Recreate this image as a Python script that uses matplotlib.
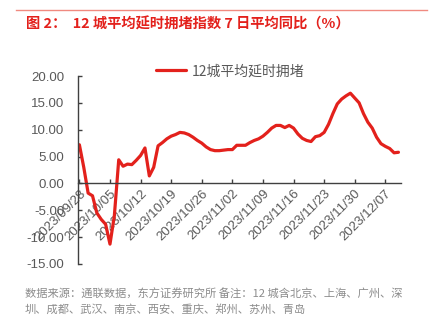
import matplotlib; matplotlib.use('Agg')
import matplotlib.pyplot as plt
import matplotlib.dates as mdates
import pandas as pd

# daily dates, 2023/09/28 .. 2023/12/10
dates = pd.date_range("2023-09-28", "2023-12-10", freq="D")

# 12-city average delayed congestion index, 7-day average YoY (%)
yoy = [
    7.2, 3.0, -1.8, -2.3, -5.5, -6.7, -7.6, -11.3, -6.0, 4.4,
    3.2, 3.6, 3.5, 4.3, 5.2, 6.6, 1.4, 3.0, 7.0, 7.6,
    8.3, 8.8, 9.1, 9.5, 9.4, 9.1, 8.6, 8.0, 7.5, 6.8,
    6.3, 6.1, 6.1, 6.2, 6.3, 6.3, 7.1, 7.1, 7.1, 7.6,
    8.0, 8.3, 8.8, 9.5, 10.3, 10.8, 10.8, 10.4, 10.8, 10.3,
    9.2, 8.4, 8.0, 7.8, 8.7, 8.9, 9.5, 11.0, 13.0, 14.8,
    15.7, 16.3, 16.8, 15.9, 15.0, 13.0, 11.4, 10.3, 8.6, 7.4,
    6.9, 6.5, 5.7, 5.8,
]
series_label = "12城平均延时拥堵"
yticks = [20, 15, 10, 5, 0, -5, -10, -15]

title = "图 2：  12 城平均延时拥堵指数 7 日平均同比（%）"
note = ("数据来源：通联数据，东方证券研究所 备注：12 城含北京、上海、广州、深\n"
        "圳、成都、武汉、南京、西安、重庆、郑州、苏州、青岛")

RED = "#e3211c"
GRAY = "#595959"
NUM_FONT = ["Liberation Sans", "Noto Sans CJK SC"]
CJK_FONT = ["Noto Sans CJK SC", "DejaVu Sans"]

fig = plt.figure(figsize=(4.34, 3.23), dpi=100)
W, H = 434, 323
ax = fig.add_axes([78.3 / W, 1 - 264 / H, (401 - 78.3) / W, (264 - 76) / H])

ax.plot(dates, yoy, color=RED, lw=2.3, solid_capstyle='round',
        solid_joinstyle='round', label=series_label)

ax.set_ylim(-15, 20)
ax.set_yticks(yticks)
ax.set_yticklabels([f"{v:.2f}" for v in yticks])
x0 = dates[0] - pd.Timedelta(hours=6)
x1 = dates[-1] + pd.Timedelta(hours=14)
ax.set_xlim(x0, x1)
ax.set_xticks(dates[::7])
ax.xaxis.set_major_formatter(mdates.DateFormatter("%Y/%m/%d"))

# spines: left axis only, x axis drawn through zero
for s in ("top", "right"):
    ax.spines[s].set_visible(False)
ax.spines["bottom"].set_position(("data", 0))
ax.spines["bottom"].set_color("#404040")
ax.spines["left"].set_color("#404040")
ax.spines["bottom"].set_linewidth(1.0)
ax.spines["left"].set_linewidth(1.0)

ax.tick_params(axis='y', direction='in', length=3, width=1, color="#404040",
               pad=10, labelcolor=GRAY)
ax.tick_params(axis='x', direction='in', length=3, width=1, color="#404040",
               pad=3, labelcolor=GRAY)
for lab in ax.get_yticklabels():
    lab.set_family(NUM_FONT)
    lab.set_fontsize(9.5)
for lab in ax.get_xticklabels():
    lab.set_family(NUM_FONT)
    lab.set_fontsize(9.5)
    lab.set_rotation(45)
    lab.set_ha('right')
    lab.set_va('top')
    lab.set_rotation_mode('anchor')

leg = ax.legend(loc='upper center', bbox_to_anchor=(0.47, 1.13), frameon=False,
                handlelength=2.2, handletextpad=0.4,
                prop={'family': CJK_FONT, 'size': 10})
for t in leg.get_texts():
    t.set_color(GRAY)

# header rule and title
fig.add_artist(plt.Line2D([16 / W, 427 / W], [1 - 10 / H, 1 - 10 / H],
                          color="#f08a80", lw=1.0))
fig.text(26 / W, 1 - 24 / H, title, color=RED, fontsize=10.3, fontweight='bold',
         family=CJK_FONT, ha='left', va='center')

fig.text(25 / W, 1 - 289 / H, note, color="#8c8c8c", fontsize=8.1,
         family=CJK_FONT, ha='left', va='top', linespacing=1.45)

plt.savefig("out.png", dpi=100)
plt.close()
